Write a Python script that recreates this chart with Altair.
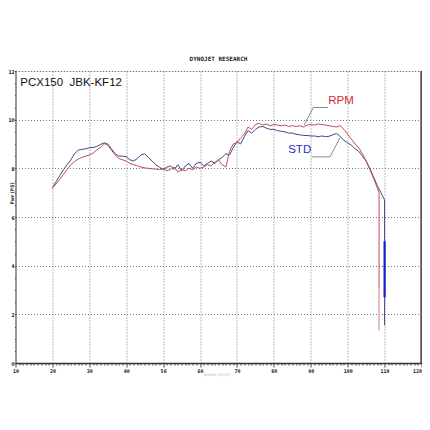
import altair as alt
import pandas as pd

# STD (blue) curve
std_x = [20, 21, 22, 23, 24, 25, 26, 27, 28, 29, 30, 31, 32, 33, 34, 35, 36, 37, 38, 39,
         40, 41, 42, 43, 44, 45, 46, 47, 48, 49, 50, 51, 52, 53, 54, 55, 56, 57, 58, 59,
         60, 61, 62, 63, 64, 65, 66, 67, 68, 69, 70, 71, 72, 73, 74, 75, 76, 77, 78, 79,
         80, 81, 82, 83, 84, 85, 86, 87, 88, 89, 90, 91, 92, 93, 94, 95, 96, 97, 98, 99,
         100, 101, 102, 103, 104, 105, 106, 107, 108, 109, 110, 110]
std_y = [7.2, 7.45, 7.7, 7.95, 8.15, 8.35, 8.6, 8.75, 8.78, 8.8, 8.85, 8.85, 8.9, 8.98, 9.05, 9.0, 8.8, 8.6, 8.5, 8.5,
         8.48, 8.35, 8.3, 8.4, 8.55, 8.6, 8.45, 8.3, 8.15, 8.05, 7.95, 8.05, 8.1, 7.95, 8.15, 7.9, 8.1, 8.2, 8.0, 8.2,
         8.25, 8.1, 8.2, 8.3, 8.2, 8.35, 8.45, 8.6, 8.55, 8.85, 9.1, 9.0, 9.3, 9.55, 9.45, 9.6, 9.7, 9.72, 9.65, 9.6,
         9.6, 9.55, 9.52, 9.5, 9.45, 9.45, 9.4, 9.38, 9.35, 9.35, 9.33, 9.33, 9.3, 9.33, 9.3, 9.32, 9.38, 9.43, 9.3, 9.15,
         9.05, 8.95, 8.8, 8.7, 8.5, 8.3, 8.0, 7.65, 7.3, 7.0, 6.7, 1.55]

# RPM / JBK (red) curve
rpm_x = [20, 21, 22, 23, 24, 25, 26, 27, 28, 29, 30, 31, 32, 33, 34, 35, 36, 37, 38, 39,
         40, 41, 42, 43, 44, 45, 46, 47, 48, 49, 50, 51, 52, 53, 54, 55, 56, 57, 58, 59,
         60, 61, 62, 63, 64, 65, 66, 67, 68, 69, 70, 71, 72, 73, 74, 75, 76, 77, 78, 79,
         80, 81, 82, 83, 84, 85, 86, 87, 88, 89, 90, 91, 92, 93, 94, 95, 96, 97, 98, 99,
         100, 101, 102, 103, 104, 105, 106, 107, 108, 108.5, 108.5]
rpm_y = [7.2, 7.35, 7.55, 7.75, 7.95, 8.15, 8.28, 8.38, 8.45, 8.5, 8.55, 8.62, 8.75, 8.85, 9.02, 8.95, 8.75, 8.55, 8.4, 8.35,
         8.3, 8.2, 8.15, 8.1, 8.05, 8.02, 8.0, 7.98, 7.97, 7.95, 7.98, 7.9, 7.95, 8.05, 7.85, 7.95, 7.9, 8.0, 7.95, 8.05,
         8.0, 8.05, 8.15, 8.1, 8.25, 8.35, 8.15, 8.05, 8.7, 9.0, 9.05, 9.25, 9.4, 9.7, 9.6, 9.8, 9.85, 9.78, 9.82, 9.75,
         9.8, 9.78, 9.75, 9.78, 9.72, 9.75, 9.72, 9.75, 9.7, 9.78, 9.8, 9.78, 9.82, 9.8, 9.78, 9.75, 9.72, 9.7, 9.75, 9.6,
         9.4, 9.2, 9.0, 8.85, 8.6, 8.3, 7.95, 7.6, 7.2, 7.0, 1.35]

# highlighted bits of the drop-off
blue_thick_x = [110, 110]
blue_thick_y = [5.0, 2.7]
red_pale_x = [108.5, 108.5]
red_pale_y = [3.1, 1.35]

# leader lines
rpm_lead_x = [88.2, 90.7, 94.7]
rpm_lead_y = [9.78, 10.5, 10.5]
std_lead_x = [90.3, 95.2, 97.9]
std_lead_y = [8.47, 8.47, 9.25]

labels_text = ["PCX150\u00a0\u00a0JBK-KF12", "RPM", "STD"]
labels_x = [11.3, 98.2, 87.0]
labels_y = [11.5, 10.77, 8.75]

x_scale = alt.Scale(domain=[10, 120], nice=False, zero=False)
y_scale = alt.Scale(domain=[0, 12], nice=False, zero=True)

x_axis = alt.Axis(
    values=list(range(10, 121)),
    labelExpr="datum.value % 10 === 0 ? datum.label : ''",
    labelAlign={"condition": {"test": "datum.value === 120", "value": "right"}, "value": "center"},
    tickSize={"condition": {"test": "datum.value % 10 === 0", "value": 4}, "value": 2},
    gridOpacity={"condition": {"test": "datum.value % 10 === 0", "value": 1}, "value": 0},
    grid=True, gridDash=[1, 2], gridColor="#777", gridWidth=1,
    domainColor="#333", domainWidth=1.5, tickColor="#444",
    labelFont="DejaVu Sans Mono", labelFontSize=5, labelFontWeight="bold", labelColor="#222",
    labelPadding=1, labelFlush=False,
    title="Speed (km/h)", titleFontSize=4, titleColor="#c4c4c4", titleFontWeight="normal",
    titleFont="DejaVu Sans", titleX=201, titleY=11, titleBaseline="middle", titleAlign="center",
)
y_axis = alt.Axis(
    values=[i * 0.5 for i in range(0, 25)],
    labelExpr="datum.value % 2 === 0 ? format(datum.value, 'd') : ''",
    tickSize=1,
    gridOpacity={"condition": {"test": "datum.value % 2 === 0", "value": 1}, "value": 0},
    grid=True, gridDash=[1, 2], gridColor="#777", gridWidth=1,
    domainColor="#555", tickColor="#444",
    labelFont="DejaVu Sans Condensed", labelFontSize=5, labelFontWeight="bold", labelColor="#222",
    labelPadding=0.3, labelFlush=False,
    title="Pwr (PS)", titleFontSize=5, titleColor="#333", titleFontWeight="bold",
    titleFont="DejaVu Sans Condensed", titleAngle=270, titleX=-4.5, titleY=122,
    titleAlign="center", titleBaseline="middle",
)

X = alt.X("x:Q", scale=x_scale, axis=x_axis)
Y = alt.Y("y:Q", scale=y_scale, axis=y_axis)


def line_df(xs, ys):
    return pd.DataFrame({"x": xs, "y": ys, "i": list(range(len(xs)))})


def line_layer(xs, ys, color, width):
    return alt.Chart(line_df(xs, ys)).mark_line(color=color, strokeWidth=width).encode(
        x=X, y=Y, order="i:Q",
    )


base = line_layer(std_x, std_y, "#45458a", 1)
red = line_layer(rpm_x, rpm_y, "#c24c5c", 1)
blue_thick = line_layer(blue_thick_x, blue_thick_y, "#1a1ad0", 2.2)
red_pale = line_layer(red_pale_x, red_pale_y, "#e6c6cc", 1.5)
rpm_lead = line_layer(rpm_lead_x, rpm_lead_y, "#8a8a8a", 1)
std_lead = line_layer(std_lead_x, std_lead_y, "#8a8a8a", 1)

lab_df = pd.DataFrame({"t": labels_text, "x": labels_x, "y": labels_y})
title_txt = alt.Chart(lab_df.iloc[[0]]).mark_text(
    align="left", baseline="middle", font="Liberation Sans", fontSize=11.5, color="#111"
).encode(x=X, y=Y, text="t:N")
rpm_txt = alt.Chart(lab_df.iloc[[1]]).mark_text(
    align="center", baseline="middle", font="Liberation Sans", fontSize=11.5, color="#d42a3a"
).encode(x=X, y=Y, text="t:N")
std_txt = alt.Chart(lab_df.iloc[[2]]).mark_text(
    align="center", baseline="middle", font="Liberation Sans", fontSize=11.5, color="#2a2ac4"
).encode(x=X, y=Y, text="t:N")

right_edge = alt.Chart(pd.DataFrame({"x": [120]})).mark_rule(color="#555", strokeWidth=2.5).encode(x=X)

chart = alt.layer(
    base, red, blue_thick, red_pale, rpm_lead, std_lead, title_txt, rpm_txt, std_txt, right_edge
).properties(
    width=406, height=292,
    title=alt.TitleParams("DYNOJET RESEARCH", fontSize=6, font="DejaVu Sans Mono",
                          fontWeight="bold", color="#222", offset=7, anchor="middle"),
    padding={"left": 7.5, "top": 63, "right": 0.5, "bottom": 20},
    autosize="none",
).configure_view(stroke="#999", strokeWidth=1).configure(background="white")

chart.save("out.html", embed_options={"renderer": "svg", "actions": False})
